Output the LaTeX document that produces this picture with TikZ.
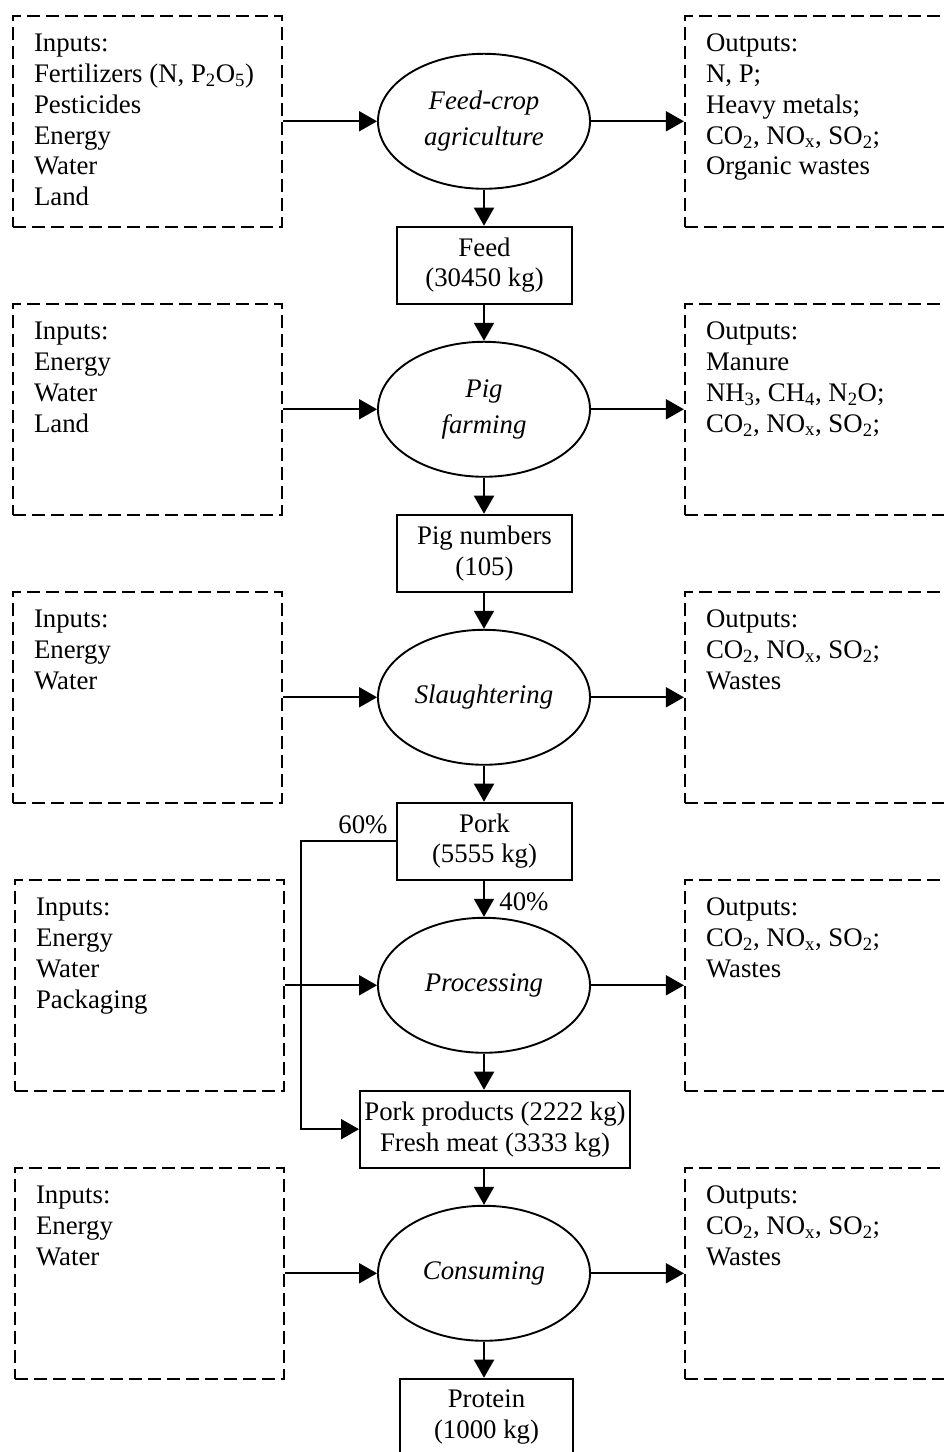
\documentclass[tikz,border=0pt]{standalone}
\usepackage{fontspec}
\setmainfont{Liberation Serif}
\usetikzlibrary{shapes.geometric,arrows.meta}

\newcommand{\iotext}[1]{\parbox[c][211bp][t]{227bp}{\raggedright\rule{0pt}{36bp}#1}}

\begin{document}
\begin{tikzpicture}[font=\fontsize{26.8bp}{30.8bp}\selectfont,
						iobox/.style={draw,dash pattern=on 13bp off 6bp,line width=2.2bp,
						inner xsep=21bp,inner ysep=0pt},
						stockbox/.style={draw,line width=1.9bp,align=center,
						minimum width=175bp,minimum height=77bp,inner sep=2bp},
						stage/.style={draw,ellipse,line width=1.9bp,align=center,
						minimum width=212bp,minimum height=135bp,inner sep=0pt,
						font=\fontsize{26.8bp}{36bp}\selectfont\itshape},
						flow/.style={line width=1.9bp,-{Triangle[length=18bp,width=20bp]}}]

		\useasboundingbox (0,0) rectangle (944bp,1452bp);

		% feed-crop agriculture
		\node[iobox] (in1) at (147.5bp,1330.7bp) {\iotext{Inputs:\\ Fertilizers (N, P\textsubscript{2}O\textsubscript{5})\\ Pesticides\\ Energy\\ Water\\ Land}};
		\node[stage] (p1) at (484bp,1330.7bp) {Feed-crop\\ agriculture};
		\node[iobox] (out1) at (819.5bp,1330.7bp) {\iotext{Outputs:\\ N, P;\\ Heavy metals;\\ CO\textsubscript{2}, NO\textsubscript{x}, SO\textsubscript{2};\\ Organic wastes}};
		\node[stockbox] (feed) at (484.5bp,1186.8bp) {Feed\\ (30450 kg)};

		% pig farming
		\node[iobox] (in2) at (147.5bp,1042.7bp) {\iotext{Inputs:\\ Energy\\ Water\\ Land}};
		\node[stage] (p2) at (484bp,1042.7bp) {Pig\\ farming};
		\node[iobox] (out2) at (819.5bp,1042.7bp) {\iotext{Outputs:\\ Manure\\ NH\textsubscript{3}, CH\textsubscript{4}, N\textsubscript{2}O;\\ CO\textsubscript{2}, NO\textsubscript{x}, SO\textsubscript{2};}};
		\node[stockbox] (pigs) at (484.5bp,898.8bp) {Pig numbers\\ (105)};

		% slaughtering
		\node[iobox] (in3) at (147.5bp,754.7bp) {\iotext{Inputs:\\ Energy\\ Water}};
		\node[stage] (p3) at (484bp,754.7bp) {Slaughtering};
		\node[iobox] (out3) at (819.5bp,754.7bp) {\iotext{Outputs:\\ CO\textsubscript{2}, NO\textsubscript{x}, SO\textsubscript{2};\\ Wastes}};
		\node[stockbox] (pork) at (484.5bp,610.8bp) {Pork\\ (5555 kg)};

		% processing
		\node[iobox] (in4) at (149.5bp,466.7bp) {\iotext{Inputs:\\ Energy\\ Water\\ Packaging}};
		\node[stage] (p4) at (484bp,466.7bp) {Processing};
		\node[iobox] (out4) at (819.5bp,466.7bp) {\iotext{Outputs:\\ CO\textsubscript{2}, NO\textsubscript{x}, SO\textsubscript{2};\\ Wastes}};
		\node[stockbox,minimum width=270bp] (prod) at (495bp,322.8bp) {Pork products (2222 kg)\\ Fresh meat (3333 kg)};

		% consuming
		\node[iobox] (in5) at (149.5bp,178.7bp) {\iotext{Inputs:\\ Energy\\ Water}};
		\node[stage] (p5) at (484bp,178.7bp) {Consuming};
		\node[iobox] (out5) at (819.5bp,178.7bp) {\iotext{Outputs:\\ CO\textsubscript{2}, NO\textsubscript{x}, SO\textsubscript{2};\\ Wastes}};
		\node[stockbox,minimum width=173bp] (protein) at (486.5bp,34.8bp) {Protein\\ (1000 kg)};

		\node (l60) at (363bp,627bp) {60\%};
		\node (l40) at (524bp,550bp) {40\%};
		\coordinate (split) at (301bp,610.8bp);

		\draw[flow] (in1.east) -- (p1.west);
		\draw[flow] (p1.east) -- (out1.west);
		\draw[flow] (p1.south) -- (p1.south |- feed.north);
		\draw[flow] (feed.south -| p2.north) -- (p2.north);

		\draw[flow] (in2.east) -- (p2.west);
		\draw[flow] (p2.east) -- (out2.west);
		\draw[flow] (p2.south) -- (p2.south |- pigs.north);
		\draw[flow] (pigs.south -| p3.north) -- (p3.north);

		\draw[flow] (in3.east) -- (p3.west);
		\draw[flow] (p3.east) -- (out3.west);
		\draw[flow] (p3.south) -- (p3.south |- pork.north);
		\draw[flow] (pork.south -| p4.north) -- (p4.north);
		\draw[flow] (pork.west) -- (split) |- (prod.west);

		\draw[flow] (in4.east) -- (p4.west);
		\draw[flow] (p4.east) -- (out4.west);
		\draw[flow] (p4.south) -- (p4.south |- prod.north);
		\draw[flow] (prod.south -| p5.north) -- (p5.north);

		\draw[flow] (in5.east) -- (p5.west);
		\draw[flow] (p5.east) -- (out5.west);
		\draw[flow] (p5.south) -- (p5.south |- protein.north);

	\end{tikzpicture}
\end{document}
